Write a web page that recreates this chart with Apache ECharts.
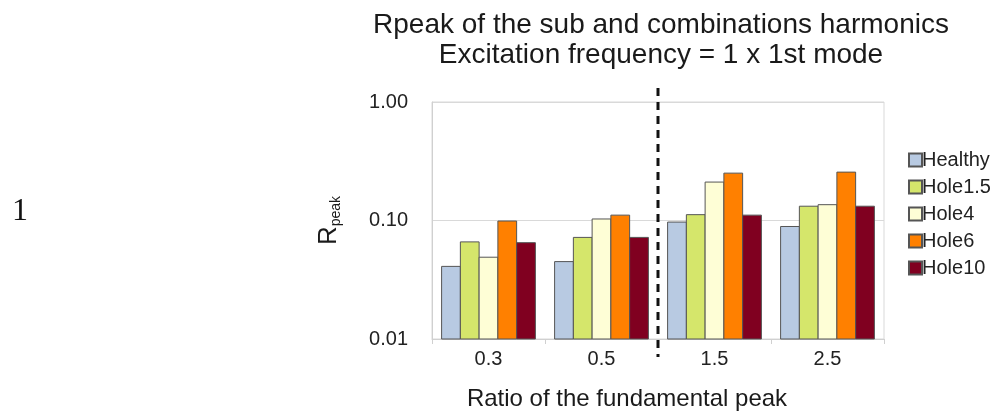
<!DOCTYPE html>
<html>
<head>
<meta charset="utf-8">
<script src="https://cdn.jsdelivr.net/npm/echarts@6/dist/echarts.min.js"></script>
<style>
  html, body { margin: 0; padding: 0; background: #fff; }
  #chart { width: 1003px; height: 414px; }
</style>
</head>
<body>
<div id="chart"></div>
<script>
// ratio categories
const ratios = ['0.3', '0.5', '1.5', '2.5']
const seriesNames = ['Healthy', 'Hole1.5', 'Hole4', 'Hole6', 'Hole10']
const healthy = [0.041, 0.045, 0.097, 0.089]
const hole15 = [0.066, 0.072, 0.112, 0.132]
const hole4 = [0.049, 0.103, 0.211, 0.136]
const hole6 = [0.099, 0.111, 0.251, 0.256]
const hole10 = [0.065, 0.072, 0.111, 0.132]
const colors = ['#b8cae2', '#d5e66b', '#fefed6', '#ff8000', '#800020']
const yMin = 0.01
const yMax = 1

const allData = [healthy, hole15, hole4, hole6, hole10]
const font = 'Liberation Sans, Arial, sans-serif'

let Mycharts = echarts.init(document.getElementById('chart'))

// bars on a log axis grow from 1 by default, so draw them from yMin up
function barRenderer(i) {
    return function (params, api) {
        const band = api.size([1, 0])[0]
        const groupW = band * 0.83
        const barW = groupW / seriesNames.length
        const top = api.coord([api.value(0), api.value(1)])
        const base = api.coord([api.value(0), yMin])
        return {
            type: 'rect',
            shape: {
                x: top[0] - groupW / 2 + i * barW,
                y: top[1],
                width: barW,
                height: base[1] - top[1]
            },
            style: { fill: colors[i], stroke: '#555', lineWidth: 1 }
        }
    }
}

let option = {
    animation: false,
    color: colors,
    title: {
        text: 'Rpeak of the sub and combinations harmonics\nExcitation frequency = 1 x 1st mode',
        left: 656,
        textAlign: 'center',
        top: 5,
        textStyle: {
            fontFamily: font,
            fontSize: 28,
            fontWeight: 'normal',
            color: '#1a1a1a',
            lineHeight: 30
        }
    },
    legend: {
        orient: 'vertical',
        left: 903,
        top: 145,
        itemWidth: 13,
        itemHeight: 13,
        itemGap: 7,
        icon: 'rect',
        textStyle: {
            fontFamily: font,
            fontSize: 20,
            lineHeight: 20,
            color: '#222',
            padding: [0, 0, 0, -5]
        },
        data: seriesNames
    },
    grid: {
        left: 432,
        right: 119,
        top: 102,
        bottom: 75,
        outerBoundsMode: 'none',
        show: true,
        borderColor: '#d9d9d9',
        borderWidth: 1
    },
    xAxis: {
        type: 'category',
        data: ratios,
        name: 'Ratio of the fundamental peak',
        nameLocation: 'middle',
        nameGap: 48,
        nameTextStyle: {
            fontFamily: font,
            fontSize: 24,
            color: '#1a1a1a',
            padding: [0, 62, 0, 0]
        },
        axisLine: { show: true, lineStyle: { color: '#d0d0d0' } },
        axisTick: { show: true, length: 5, lineStyle: { color: '#d0d0d0' } },
        axisLabel: {
            margin: 10,
            fontFamily: font,
            fontSize: 20,
            color: '#222'
        }
    },
    yAxis: {
        type: 'log',
        logBase: 10,
        min: yMin,
        max: yMax,
        name: '{r|R}{s|peak}',
        nameLocation: 'middle',
        nameRotate: 90,
        nameGap: 88,
        nameTextStyle: {
            rich: {
                r: { fontFamily: font, fontSize: 26, color: '#1a1a1a', lineHeight: 30 },
                s: { fontFamily: font, fontSize: 14, color: '#1a1a1a', lineHeight: 30, padding: [14, 0, 0, 0] }
            }
        },
        axisLine: { show: true, lineStyle: { color: '#d0d0d0' } },
        axisTick: { show: false },
        splitLine: { show: true, lineStyle: { color: '#d9d9d9' } },
        axisLabel: {
            margin: 24,
            fontFamily: font,
            fontSize: 20,
            color: '#222',
            formatter: v => v.toFixed(2)
        }
    },
    series: seriesNames.map((name, i) => ({
        name: name,
        type: 'custom',
        encode: { x: 0, y: 1 },
        data: allData[i].map((v, j) => [j, v]),
        itemStyle: {
            color: colors[i],
            borderColor: '#555',
            borderWidth: 1
        },
        renderItem: barRenderer(i)
    }))
}
Mycharts.setOption(option)

// dashed divider between the 0.5 and 1.5 groups
const xa = Mycharts.convertToPixel({ xAxisIndex: 0 }, ratios[1])
const xb = Mycharts.convertToPixel({ xAxisIndex: 0 }, ratios[2])
const yTop = Mycharts.convertToPixel({ yAxisIndex: 0 }, yMax)
const yBot = Mycharts.convertToPixel({ yAxisIndex: 0 }, yMin)
const xm = (xa + xb) / 2
Mycharts.setOption({
    graphic: [
        {
            type: 'text',
            left: 12,
            top: 196,
            style: { text: '1', font: '32px "Liberation Serif", serif', fill: '#111' }
        },
        {
            type: 'line',
            shape: { x1: xm, y1: yTop - 14, x2: xm, y2: yBot + 18 },
            style: { stroke: '#111', lineWidth: 3, lineDash: [8, 6] },
            z: 10
        }
    ]
})
</script>
</body>
</html>
